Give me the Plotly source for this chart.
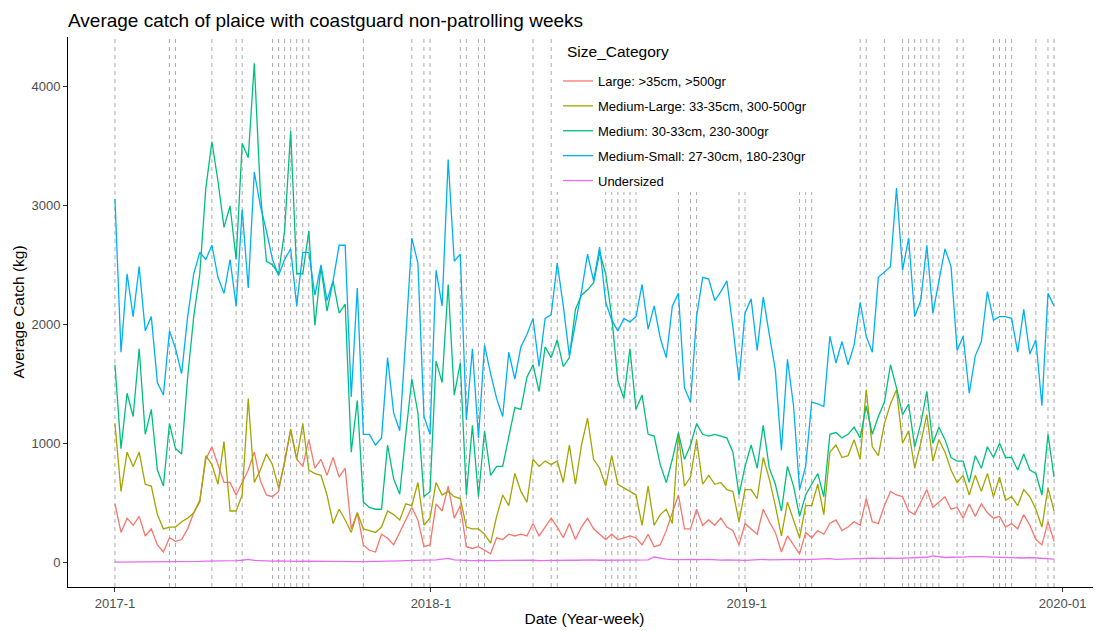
import pandas as pd
import plotly.graph_objects as go

# weekly average catch (kg), 156 weeks from 2017 week 1
large = [489, 249, 369, 309, 384, 219, 279, 144, 84, 204,
         174, 189, 279, 414, 519, 864, 969, 819, 669, 669,
         564, 669, 774, 924, 684, 564, 549, 594, 834, 1104,
         864, 804, 1029, 789, 864, 729, 879, 714, 789, 279,
         414, 144, 99, 84, 234, 200, 144, 254, 354, 459,
         354, 129, 144, 489, 429, 639, 369, 474, 129, 114,
         129, 99, 69, 204, 189, 234, 219, 234, 219, 324,
         219, 294, 369, 294, 204, 324, 189, 294, 369, 279,
         234, 189, 234, 189, 204, 219, 204, 144, 234, 129,
         144, 264, 414, 564, 279, 279, 444, 309, 354, 309,
         369, 294, 264, 144, 324, 279, 234, 444, 339, 249,
         84, 219, 144, 69, 249, 204, 264, 234, 324, 354,
         264, 294, 339, 309, 534, 339, 324, 474, 594, 564,
         549, 429, 399, 504, 609, 459, 504, 549, 444, 459,
         369, 489, 384, 489, 414, 369, 384, 294, 324, 279,
         399, 309, 189, 144, 339, 174]

medium_large = [1164, 594, 924, 804, 924, 654, 639, 399, 279, 294,
                294, 339, 369, 414, 504, 894, 819, 654, 1014, 429,
                429, 564, 1374, 669, 774, 909, 819, 624, 834, 1119,
                864, 1164, 774, 744, 729, 564, 324, 444, 354, 249,
                414, 279, 264, 249, 294, 429, 399, 354, 489, 474,
                669, 309, 369, 669, 564, 594, 549, 534, 294, 279,
                279, 234, 159, 384, 564, 474, 744, 594, 504, 864,
                804, 849, 819, 849, 669, 984, 654, 984, 1209, 864,
                789, 639, 894, 654, 624, 594, 564, 309, 639, 309,
                399, 444, 324, 1074, 639, 714, 1029, 654, 729, 654,
                669, 609, 594, 339, 609, 609, 534, 879, 699, 474,
                219, 504, 354, 204, 474, 474, 654, 399, 924, 984,
                879, 894, 1029, 864, 1449, 969, 894, 1164, 1329, 1449,
                999, 1104, 789, 999, 1239, 849, 1029, 924, 774, 669,
                729, 564, 729, 594, 744, 549, 714, 519, 549, 474,
                609, 549, 444, 294, 624, 429]

medium = [1659, 954, 1419, 1224, 1794, 1074, 1284, 774, 639, 1164,
          954, 909, 1554, 2064, 2424, 3144, 3534, 3204, 2814, 2994,
          2544, 3519, 3399, 4194, 3114, 2529, 2499, 2424, 2784, 3624,
          2424, 2424, 2784, 1989, 2484, 2109, 2364, 2094, 2169, 924,
          1359, 504, 459, 444, 444, 984, 700, 570, 1074, 1539,
          1254, 549, 594, 1689, 1509, 2334, 1404, 1674, 564, 1149,
          549, 1104, 729, 804, 804, 1044, 1299, 1284, 1554, 1659,
          1434, 1809, 1719, 1869, 1644, 1719, 2124, 2244, 2289, 2349,
          2604, 2424, 2064, 1524, 1374, 1794, 1284, 1404, 1074, 1059,
          819, 669, 864, 1089, 864, 984, 1164, 1074, 1059, 1074,
          1059, 1044, 924, 564, 804, 984, 789, 1149, 789, 654,
          429, 804, 639, 384, 564, 654, 744, 549, 1074, 1089,
          1044, 1074, 1134, 1044, 1314, 1074, 1224, 1344, 1659, 1464,
          1239, 1329, 969, 1164, 1434, 999, 1134, 1029, 879, 849,
          849, 669, 894, 789, 969, 879, 999, 879, 879, 774,
          909, 774, 744, 564, 1074, 714]

medium_small = [3054, 1764, 2424, 2064, 2484, 1944, 2064, 1509, 1404, 1944,
                1794, 1584, 2064, 2424, 2604, 2544, 2664, 2394, 2259, 2544,
                2154, 2964, 2304, 3279, 2994, 2784, 2544, 2409, 2544, 2634,
                2154, 2604, 2604, 2244, 2499, 2199, 2364, 2664, 2664, 1389,
                2304, 1074, 1074, 984, 1044, 1719, 1254, 1104, 1884, 2724,
                2514, 1224, 1074, 2454, 2154, 3384, 2529, 2589, 1194, 1794,
                1044, 1824, 1584, 1374, 1224, 1764, 1539, 1809, 1914, 2049,
                1644, 2049, 2079, 2514, 2154, 1734, 2004, 2274, 2589, 2364,
                2649, 2184, 2034, 1944, 2049, 2019, 2064, 2334, 1959, 2154,
                1884, 1719, 2154, 2259, 1464, 1344, 2064, 2394, 2379, 2199,
                2274, 2364, 1974, 1524, 2094, 2214, 1779, 2229, 1914, 1614,
                939, 1704, 1314, 609, 804, 1344, 1329, 1308, 1899, 1674,
                1854, 1659, 1824, 2184, 1899, 1764, 2394, 2439, 2484, 3144,
                2454, 2724, 2064, 2199, 2664, 2094, 2364, 2634, 2484, 1779,
                1899, 1419, 1734, 1854, 2274, 2034, 2064, 2064, 2049, 1764,
                2124, 1749, 1869, 1314, 2259, 2154]

undersized = [0, 0, 0, 0, 0, 0, 0, 0, 0, 0,
              0, 0, 0, 2, 5, 8, 8, 8, 9, 10,
              12, 15, 22, 14, 10, 8, 8, 9, 6, 6,
              5, 7, 6, 5, 5, 5, 4, 4, 6, 3,
              3, 4, 4, 5, 6, 8, 10, 10, 12, 12,
              14, 12, 15, 18, 25, 30, 18, 15, 12, 12,
              14, 12, 10, 12, 14, 15, 16, 15, 14, 15,
              12, 14, 15, 18, 20, 16, 15, 18, 20, 18,
              15, 16, 18, 15, 18, 20, 22, 20, 18, 42,
              30, 24, 20, 18, 20, 22, 18, 20, 22, 18,
              16, 18, 20, 16, 14, 18, 20, 22, 18, 20,
              18, 22, 24, 22, 20, 22, 24, 26, 28, 22,
              24, 26, 30, 28, 30, 32, 30, 34, 32, 30,
              32, 36, 34, 38, 40, 52, 42, 38, 40, 44,
              42, 45, 48, 46, 44, 42, 40, 42, 38, 36,
              34, 38, 36, 32, 30, 24]

# week numbers (from 2017 week 1) without coastguard patrols
non_patrol_weeks = [0, 9, 10, 16, 20, 21, 26, 27, 28, 29, 30, 31, 32, 41,
                    49, 51, 52, 57, 58, 60, 61, 69, 72, 73, 81, 82, 83, 84,
                    85, 86, 93, 95, 96, 103, 104, 113, 114, 115, 123, 124,
                    127, 130, 131, 132, 133, 134, 135, 136, 139, 140, 145,
                    146, 147, 148, 152, 154, 155]

categories = ['Large: >35cm, >500gr', 'Medium-Large: 33-35cm, 300-500gr',
              'Medium: 30-33cm, 230-300gr', 'Medium-Small: 27-30cm, 180-230gr',
              'Undersized']
colors = ['#F8766D', '#A3A500', '#00BF7D', '#00B0F6', '#E76BF3']
tick_dates = ['2017-01-01', '2018-01-01', '2019-01-01', '2020-01-01']
tick_labels = ['2017-1', '2018-1', '2019-1', '2020-01']

series = [large, medium_large, medium, medium_small, undersized]
for s in series:
    assert len(s) == 156, len(s)

weeks = pd.date_range('2017-01-01', periods=156, freq='7D')
span = weeks[-1] - weeks[0]
x_range = [weeks[0] - span * 0.05, weeks[-1] + span * 0.05]

# page has an 8px body margin, so the figure is 8px smaller and shifted
W, H = 1093, 623
L, R, T, B = 60, 0, 29, 44
pw, ph = W - L - R, H - T - B

fig = go.Figure()

for w in non_patrol_weeks:
    fig.add_shape(type='line', xref='x', yref='paper',
                  x0=weeks[w], x1=weeks[w], y0=0, y1=1, layer='below',
                  line=dict(color='#ABABAB', width=1, dash='4px,4px'))

# legend background box (covers the dashed lines like ggplot's legend)
fig.add_shape(type='rect', xref='paper', yref='paper', layer='above',
              x0=(545 - L) / pw, x1=(805 - L) / pw, y0=1 - (184 - T) / ph, y1=1,
              line=dict(width=0), fillcolor='white')

for name, vals, col in zip(categories, series, colors):
    fig.add_trace(go.Scatter(
        x=weeks, y=vals, name=name, mode='lines', legendgroup=name,
        line=dict(color=col, width=1.3)
    ))

fig.add_annotation(text='Size_Category', xref='paper', yref='paper',
                   x=(557 - L) / pw, y=1 - (44 - T) / ph, xanchor='left', yanchor='middle',
                   showarrow=False, font=dict(size=15.5, color='black'))

axis_font = dict(family='Liberation Sans, Arial, sans-serif', size=13, color='#4D4D4D')

fig.update_layout(
    width=W, height=H,
    margin=dict(l=L, r=R, t=T, b=B),
    paper_bgcolor='white', plot_bgcolor='white',
    font=dict(family='Liberation Sans, Arial, sans-serif', color='black'),
    title=dict(text='Average catch of plaice with coastguard non-patrolling weeks',
               x=0, xref='paper', xanchor='left',
               y=1 - 12 / H, yref='container', yanchor='middle',
               font=dict(size=19, color='black')),
    xaxis=dict(range=x_range, tickvals=pd.to_datetime(tick_dates), ticktext=tick_labels,
               showgrid=False, zeroline=False, showline=True, linecolor='black',
               linewidth=1, ticks='outside', ticklen=4, tickcolor='#333333',
               tickfont=axis_font,
               title=dict(text='Date (Year-week)', font=dict(size=15.5), standoff=3)),
    yaxis=dict(range=[-210, 4415], tickvals=[0, 1000, 2000, 3000, 4000],
               showgrid=False, zeroline=False, showline=True, linecolor='black',
               linewidth=1, ticks='outside', ticklen=4, tickcolor='#333333',
               tickfont=axis_font,
               title=dict(text='Average Catch (kg)', font=dict(size=15.5), standoff=3)),
    legend=dict(x=(550 - L) / pw, y=1 - (58 - T) / ph, xanchor='left', yanchor='top',
                bgcolor='rgba(0,0,0,0)', borderwidth=0, tracegroupgap=5,
                font=dict(size=13, color='black')),
    showlegend=True,
)

fig.write_html('out.html')
